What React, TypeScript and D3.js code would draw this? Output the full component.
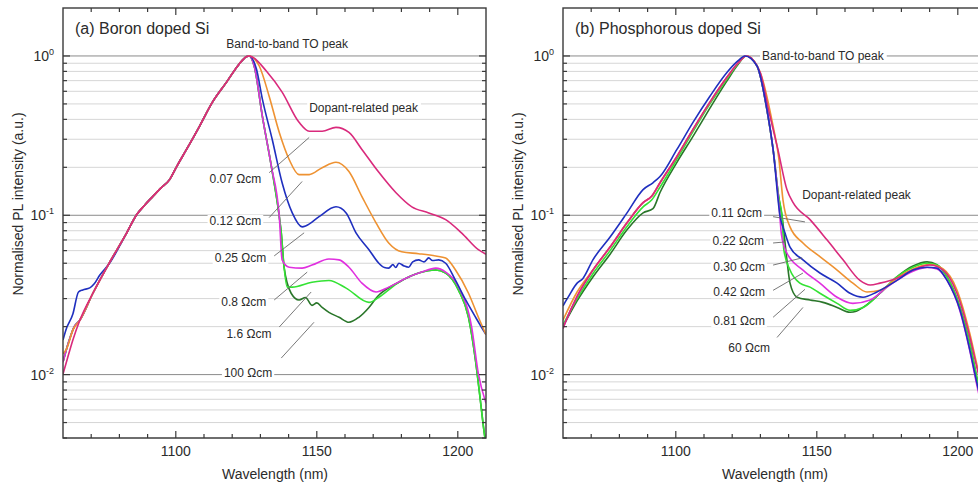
import React, { useEffect, useRef } from 'react';
import * as d3 from 'd3';

type Pt = [number, number];

const W = 978;
const H = 485;
const TOP = 8;
const BOTTOM = 438;
const PW = 423;
const X_DOMAIN: [number, number] = [1060, 1210];
const Y_DOMAIN: [number, number] = [0.004, 2];

const X_MAJOR = [1100, 1150, 1200];
const X_MINOR = [1070, 1080, 1090, 1110, 1120, 1130, 1140, 1160, 1170, 1180, 1190];
const Y_MAJOR = [0.01, 0.1, 1];
const Y_MAJOR_LABEL = ['0', '-1', '-2'];
const Y_MINOR = [0.004, 0.005, 0.006, 0.007, 0.008, 0.009, 0.02, 0.03, 0.04, 0.05, 0.06, 0.07, 0.08, 0.09,
  0.2, 0.3, 0.4, 0.5, 0.6, 0.7, 0.8, 0.9];

// ---------- (a) Boron doped Si ----------
const riseB: Pt[] = [[1066, 0.022], [1070.6, 0.0324], [1076.6, 0.0509], [1082.6, 0.0776], [1086.1, 0.1007],
  [1089, 0.116], [1091.8, 0.131], [1094.5, 0.147], [1097.8, 0.1675], [1100.5, 0.205], [1103.8, 0.259],
  [1108.4, 0.362], [1113, 0.513], [1118, 0.685], [1122.5, 0.891], [1125, 0.99], [1126, 1.0]];

const b007: Pt[] = [[1060, 0.0101], [1061.5, 0.0125], [1063.5, 0.0165], ...riseB, [1127.1, 0.986], [1132.1, 0.804],
  [1137.7, 0.593], [1143.7, 0.383], [1147.3, 0.337], [1151.9, 0.337], [1156.8, 0.356], [1161.4, 0.331],
  [1166, 0.259], [1172, 0.186], [1178, 0.139], [1183.7, 0.113], [1189.7, 0.1035], [1195.7, 0.0939],
  [1201.3, 0.0776], [1207.3, 0.0608], [1210, 0.057]];
const b012: Pt[] = [[1060, 0.0135], [1061.5, 0.0148], [1063.5, 0.019], ...riseB, [1129.6, 0.865], [1133.1, 0.559],
  [1136.7, 0.331], [1140.2, 0.224], [1143.7, 0.18], [1147.3, 0.18], [1151.9, 0.199], [1156.8, 0.215],
  [1161.4, 0.188], [1166, 0.131], [1171, 0.0897], [1175.5, 0.067], [1180.1, 0.059], [1186.1, 0.0574],
  [1192.2, 0.0555], [1195.7, 0.054], [1199.2, 0.0453], [1203.8, 0.0324], [1207.3, 0.0229], [1210, 0.0178]];
const b025: Pt[] = [[1060, 0.0165], [1061, 0.019], [1063.5, 0.024], [1065.5, 0.033], [1067, 0.034], [1069.5, 0.035],
  [1071, 0.037], [1073, 0.042], [1076.5, 0.05], ...riseB.slice(3), [1128.6, 0.828], [1130.7, 0.536],
  [1134.2, 0.299], [1137.7, 0.16], [1141.3, 0.1035], [1144.8, 0.0846], [1146.2, 0.0859], [1150.8, 0.098],
  [1156.8, 0.113], [1160.4, 0.1035], [1163.9, 0.0776], [1168.5, 0.0608], [1172, 0.05], [1174, 0.047],
  [1175.5, 0.0466], [1177, 0.049], [1178, 0.047], [1179.1, 0.05], [1181, 0.048], [1182.6, 0.0472],
  [1184, 0.051], [1186.1, 0.0525], [1188, 0.051], [1189.7, 0.054], [1191, 0.052], [1193.2, 0.0525],
  [1195.7, 0.05], [1199.2, 0.039], [1202.8, 0.0294], [1206.3, 0.0229], [1210, 0.0178]];
const b08: Pt[] = [[1060, 0.012], [1062, 0.016], [1064, 0.02], ...riseB, [1127.8, 0.865], [1130.7, 0.418],
  [1133.9, 0.202], [1136.7, 0.098], [1137.7, 0.0525], [1140.2, 0.0472], [1144.8, 0.0466], [1148.3, 0.0487],
  [1154.3, 0.0532], [1157.9, 0.0525], [1161.4, 0.0472], [1166, 0.0375], [1171, 0.033], [1175.5, 0.0354],
  [1181.6, 0.0403], [1187.2, 0.044], [1192.2, 0.0466], [1195.7, 0.044], [1200.3, 0.0354], [1204.9, 0.0199],
  [1207.3, 0.0101], [1210, 0.0066]];
const b16: Pt[] = [[1060, 0.012], [1062, 0.016], [1064, 0.02], ...riseB, [1127.8, 0.865], [1130.7, 0.418],
  [1133.9, 0.202], [1136.7, 0.098], [1137.4, 0.0776], [1138.4, 0.0472], [1139.5, 0.0354], [1141.3, 0.0354],
  [1148.3, 0.038], [1154.3, 0.039], [1160.4, 0.0349], [1168.5, 0.0284], [1172, 0.0306], [1179.1, 0.038],
  [1186.1, 0.0434], [1192.2, 0.0453], [1195.7, 0.0434], [1200.3, 0.0338], [1203.8, 0.0229], [1206.3, 0.0122],
  [1208, 0.0069], [1209.1, 0.0047], [1210, 0.0036]];
const b100: Pt[] = [[1060, 0.012], [1062, 0.016], [1064, 0.02], ...riseB, [1127.8, 0.865], [1130.7, 0.418],
  [1133.9, 0.202], [1136.7, 0.098], [1137.4, 0.0776], [1138.4, 0.0472], [1140.9, 0.0324], [1143.7, 0.0294],
  [1146, 0.0305], [1148.3, 0.0272], [1150, 0.0282], [1151.9, 0.0264], [1154.3, 0.0246], [1157.9, 0.0229],
  [1161.4, 0.0213], [1164.9, 0.0229], [1168.5, 0.0264], [1171.3, 0.0306], [1179.1, 0.038], [1186.1, 0.0434],
  [1192.2, 0.0453], [1195.7, 0.0434], [1200.3, 0.0338], [1203.8, 0.0229], [1206.3, 0.0122], [1208, 0.0069],
  [1209.1, 0.0047], [1210, 0.0036]];

// ---------- (b) Phosphorous doped Si ----------
const riseP: Pt[] = [[1060, 0.0195], [1060.7, 0.021], [1065, 0.031], [1070.6, 0.0453], [1076.7, 0.0632],
  [1082.7, 0.0897], [1088.4, 0.12], [1091.5, 0.132], [1094.4, 0.16], [1100.4, 0.234], [1106.1, 0.346],
  [1112.1, 0.513], [1118.2, 0.737], [1122, 0.9], [1125, 1.0]];
const riseP30: Pt[] = [[1060, 0.027], [1060.7, 0.0284], [1062, 0.031], [1065, 0.0375], [1067, 0.04],
  [1070.6, 0.0525], [1076.7, 0.073], [1082.7, 0.1035], [1088.4, 0.145], [1091.9, 0.16], [1094.4, 0.175],
  [1100.4, 0.259], [1106.1, 0.383], [1112.1, 0.559], [1118.2, 0.79], [1122, 0.93], [1124.5, 1.0]];
const riseP60: Pt[] = [[1060, 0.02], [1065, 0.029], [1070.6, 0.041], [1076.7, 0.057], [1082.7, 0.081],
  [1088.4, 0.1035], [1091.9, 0.11], [1094.4, 0.139], [1100.4, 0.215], [1106.1, 0.313], [1112.1, 0.47],
  [1118.2, 0.7], [1122, 0.88], [1125, 1.0]];

const p011: Pt[] = [...riseP, [1129.9, 0.79], [1133, 0.45], [1136.2, 0.259], [1139.4, 0.145], [1141.6, 0.12],
  [1147.6, 0.0939], [1153.6, 0.0701], [1159.3, 0.0525], [1165.3, 0.039], [1168.9, 0.0365], [1172.4, 0.0375],
  [1178.4, 0.0403], [1184.1, 0.0453], [1190.1, 0.0487], [1194.8, 0.0453], [1199.7, 0.0324], [1204.3, 0.0171],
  [1206.8, 0.011], [1210, 0.0065]];
const p022: Pt[] = [[1060, 0.022], [1065, 0.033], ...riseP.slice(3), [1129.9, 0.79], [1134.5, 0.362],
  [1136.5, 0.23], [1138, 0.125], [1140.5, 0.0846], [1145.1, 0.067], [1151.1, 0.055], [1157.2, 0.0453],
  [1162.8, 0.0375], [1167.8, 0.033], [1172.4, 0.0338], [1178.4, 0.0403], [1184.1, 0.046], [1190.1, 0.049],
  [1194.8, 0.046], [1199.7, 0.034], [1204.3, 0.018], [1206.8, 0.0115], [1210, 0.007]];
const p030: Pt[] = [...riseP30, [1128.8, 0.865], [1132.3, 0.463], [1134.5, 0.259], [1137, 0.098],
  [1138.7, 0.0776], [1140.5, 0.0632], [1145.1, 0.0525], [1151.1, 0.0434], [1157.2, 0.0375], [1161.8, 0.0324],
  [1166.4, 0.0306], [1171.3, 0.033], [1178.4, 0.039], [1184.1, 0.0453], [1189.1, 0.0472], [1192.6, 0.0466],
  [1196.2, 0.039], [1200.8, 0.0253], [1204.3, 0.0142], [1206.8, 0.0088], [1210, 0.0052]];
const p042: Pt[] = [...riseP, [1128.8, 0.865], [1132.3, 0.463], [1134.5, 0.259], [1136.5, 0.12],
  [1137.5, 0.075], [1139.4, 0.058], [1145.1, 0.0453], [1151.1, 0.0375], [1157.2, 0.0306], [1162.8, 0.028],
  [1168.9, 0.0294], [1174.9, 0.0354], [1178.4, 0.039], [1184.1, 0.0445], [1189.1, 0.047], [1192.6, 0.046],
  [1196.2, 0.039], [1200.8, 0.025], [1204.3, 0.014], [1206.8, 0.0085], [1210, 0.005]];
const p081: Pt[] = [[1060, 0.0205], [1065, 0.03], [1070.6, 0.043], [1076.7, 0.06], [1082.7, 0.085],
  [1088.4, 0.113], [1091.5, 0.125], [1094.4, 0.15], [1100.4, 0.225], [1106.1, 0.335], [1112.1, 0.5],
  [1118.2, 0.72], [1122, 0.89], [1125, 1.0], [1128.8, 0.865], [1132.3, 0.463], [1134.5, 0.259], [1136.5, 0.13],
  [1137.7, 0.098], [1138.3, 0.0608], [1140.5, 0.0453], [1144, 0.0375], [1147.6, 0.0354], [1151.1, 0.0324],
  [1157.2, 0.028], [1161.8, 0.0253], [1166.4, 0.0264], [1172.4, 0.0324], [1178.4, 0.041], [1184.1, 0.0472],
  [1189.1, 0.05], [1192.6, 0.0487], [1196.2, 0.041], [1200.8, 0.0264], [1204.3, 0.0157], [1206.8, 0.0095],
  [1210, 0.0055]];
const p60: Pt[] = [...riseP60, [1128.8, 0.865], [1132.3, 0.463], [1134.5, 0.259], [1136.5, 0.13],
  [1137.7, 0.098], [1139.4, 0.0525], [1140.5, 0.0375], [1143, 0.0306], [1147.6, 0.0294], [1152.2, 0.0284],
  [1157.2, 0.0264], [1161.8, 0.0246], [1164, 0.025], [1166.4, 0.0264], [1172.4, 0.0324], [1178.4, 0.041],
  [1184.1, 0.048], [1189.1, 0.051], [1192.6, 0.049], [1196.2, 0.041], [1200.8, 0.0264], [1204.3, 0.0157],
  [1206.8, 0.0095], [1210, 0.0055]];

const PINK = '#d92a7c';
const ORANGE = '#ee9232';
const BLUE = '#1f2fbf';
const MAGENTA = '#e030df';
const GREEN = '#34e234';
const DKGREEN = '#2a762a';

const boronSeries = [
  { data: b100, color: DKGREEN }, { data: b16, color: GREEN }, { data: b08, color: MAGENTA },
  { data: b025, color: BLUE }, { data: b012, color: ORANGE }, { data: b007, color: PINK },
];
const phosSeries = [
  { data: p60, color: DKGREEN }, { data: p081, color: GREEN }, { data: p042, color: MAGENTA },
  { data: p022, color: ORANGE }, { data: p011, color: PINK }, { data: p030, color: BLUE },
];

// labels: [text, wavelength, value, anchor]
const boronLabels: [string, number, number, string][] = [
  ['Band-to-band TO peak', 1139.5, 1.123, 'middle'],
  ['Dopant-related peak', 1147.3, 0.443, 'start'],
  ['0.07 Ωcm', 1130.3, 0.16, 'end'],
  ['0.12 Ωcm', 1130.3, 0.087, 'end'],
  ['0.25 Ωcm', 1132.1, 0.0508, 'end'],
  ['0.8 Ωcm', 1132.1, 0.0268, 'end'],
  ['1.6 Ωcm', 1133.9, 0.0169, 'end'],
  ['100 Ωcm', 1134.2, 0.0096, 'end'],
];
const boronLeaders: [number, number, number, number][] = [
  [1133.1, 0.185, 1147.3, 0.308], [1133.1, 0.0967, 1144.8, 0.163], [1134.9, 0.0556, 1145.5, 0.0776],
  [1134.9, 0.0294, 1146.6, 0.044], [1136.7, 0.0199, 1148, 0.033], [1137.4, 0.0127, 1149, 0.0213],
];
const phosLabels: [string, number, number, string][] = [
  ['Band-to-band TO peak', 1130.6, 0.944, 'start'],
  ['Dopant-related peak', 1144.8, 0.127, 'start'],
  ['0.11 Ωcm', 1130.6, 0.098, 'end'],
  ['0.22 Ωcm', 1131.3, 0.065, 'end'],
  ['0.30 Ωcm', 1131.6, 0.0447, 'end'],
  ['0.42 Ωcm', 1131.6, 0.031, 'end'],
  ['0.81 Ωcm', 1131.6, 0.0204, 'end'],
  ['60 Ωcm', 1133.4, 0.0138, 'end'],
];
const phosLeaders: [number, number, number, number][] = [
  [1134.5, 0.098, 1145.8, 0.0909], [1134.5, 0.067, 1138.7, 0.068], [1134.5, 0.0487, 1144.8, 0.054],
  [1134.5, 0.0338, 1145.1, 0.0434], [1134.5, 0.0229, 1145.8, 0.0343], [1135.9, 0.0171, 1145.1, 0.0264],
];

const PANELS = [
  { left: 63, title: '(a) Boron doped Si', series: boronSeries, labels: boronLabels, leaders: boronLeaders },
  { left: 563, title: '(b) Phosphorous doped Si', series: phosSeries, labels: phosLabels, leaders: phosLeaders },
];

const FONT = '"Liberation Sans", Arial, sans-serif';
const INK = '#2b2b2b';

export default function App() {
  const ref = useRef<SVGSVGElement>(null);

  useEffect(() => {
    const svg = d3.select(ref.current);
    svg.selectAll('*').remove();
    svg.append('rect').attr('width', W).attr('height', H).attr('fill', '#fff');
    const defs = svg.append('defs');

    PANELS.forEach((p, pi) => {
      const x = d3.scaleLinear().domain(X_DOMAIN).range([p.left, p.left + PW]);
      const y = d3.scaleLog().domain(Y_DOMAIN).range([BOTTOM, TOP]);
      const g = svg.append('g');
      const clipId = `clip-${pi}`;
      defs.append('clipPath').attr('id', clipId).append('rect')
        .attr('x', p.left).attr('y', TOP).attr('width', PW).attr('height', BOTTOM - TOP);

      // horizontal grid
      Y_MINOR.forEach(v => {
        g.append('line').attr('x1', p.left).attr('x2', p.left + PW).attr('y1', y(v)).attr('y2', y(v))
          .attr('stroke', '#d6d6d6').attr('stroke-width', 1);
      });
      Y_MAJOR.forEach(v => {
        g.append('line').attr('x1', p.left).attr('x2', p.left + PW).attr('y1', y(v)).attr('y2', y(v))
          .attr('stroke', '#8a8a8a').attr('stroke-width', 1);
      });

      // curves
      const line = d3.line<Pt>().x(d => x(d[0])).y(d => y(d[1])).curve(d3.curveMonotoneX);
      const cg = g.append('g').attr('clip-path', `url(#${clipId})`);
      p.series.forEach(s => {
        cg.append('path').attr('d', line(s.data) as string).attr('fill', 'none')
          .attr('stroke', s.color).attr('stroke-width', 1.6).attr('stroke-linejoin', 'round');
      });

      // leader lines
      p.leaders.forEach(l => {
        g.append('line').attr('x1', x(l[0])).attr('y1', y(l[1])).attr('x2', x(l[2])).attr('y2', y(l[3]))
          .attr('stroke', '#6a6a6a').attr('stroke-width', 0.9);
      });

      // annotation text on white background
      p.labels.forEach(([txt, wl, v, anchor]) => {
        const bg = g.append('rect').attr('fill', '#fff');
        const t = g.append('text').attr('x', x(wl)).attr('y', y(v)).attr('text-anchor', anchor)
          .attr('font-family', FONT).attr('font-size', 12).attr('fill', INK).text(txt);
        const bb = (t.node() as SVGTextElement).getBBox();
        bg.attr('x', bb.x - 2).attr('y', bb.y + 1).attr('width', bb.width + 4).attr('height', bb.height - 2);
      });

      // frame
      g.append('rect').attr('x', p.left).attr('y', TOP).attr('width', PW).attr('height', BOTTOM - TOP)
        .attr('fill', 'none').attr('stroke', '#3a3a3a').attr('stroke-width', 1.4);

      // ticks (inside, all four sides)
      const tick = (x1: number, y1: number, x2: number, y2: number) =>
        g.append('line').attr('x1', x1).attr('y1', y1).attr('x2', x2).attr('y2', y2)
          .attr('stroke', '#3a3a3a').attr('stroke-width', 1.2);
      X_MAJOR.forEach(v => { tick(x(v), BOTTOM, x(v), BOTTOM - 7); tick(x(v), TOP, x(v), TOP + 7); });
      X_MINOR.forEach(v => { tick(x(v), BOTTOM, x(v), BOTTOM - 4); tick(x(v), TOP, x(v), TOP + 4); });
      Y_MAJOR.forEach(v => { tick(p.left, y(v), p.left + 7, y(v)); tick(p.left + PW, y(v), p.left + PW - 7, y(v)); });
      Y_MINOR.forEach(v => { tick(p.left, y(v), p.left + 4, y(v)); tick(p.left + PW, y(v), p.left + PW - 4, y(v)); });

      // x tick labels
      X_MAJOR.forEach(v => {
        g.append('text').attr('x', x(v)).attr('y', BOTTOM + 18).attr('text-anchor', 'middle')
          .attr('font-family', FONT).attr('font-size', 14).attr('fill', INK).text(String(v));
      });
      // y tick labels
      Y_MAJOR.slice().reverse().forEach((v, i) => {
        const t = g.append('text').attr('x', p.left - 9).attr('y', y(v) + 5).attr('text-anchor', 'end')
          .attr('font-family', FONT).attr('font-size', 14).attr('fill', INK);
        t.append('tspan').text('10');
        t.append('tspan').attr('dy', -6).attr('font-size', 9).text(Y_MAJOR_LABEL[i]);
      });

      // axis titles
      g.append('text').attr('x', p.left + 212).attr('y', 479).attr('text-anchor', 'middle')
        .attr('font-family', FONT).attr('font-size', 14).attr('fill', INK).text('Wavelength (nm)');
      g.append('text').attr('transform', `translate(${p.left - 40},204) rotate(-90)`).attr('text-anchor', 'middle')
        .attr('font-family', FONT).attr('font-size', 14).attr('fill', INK).text('Normalised PL intensity (a.u.)');

      // panel title
      g.append('text').attr('x', p.left + 12).attr('y', 34).attr('font-family', FONT).attr('font-size', 16)
        .attr('fill', INK).text(p.title);
    });
  }, []);

  return (
    <svg ref={ref} width={W} height={H}
      style={{ position: 'absolute', left: 0, top: 0, display: 'block', overflow: 'hidden' }} />
  );
}
